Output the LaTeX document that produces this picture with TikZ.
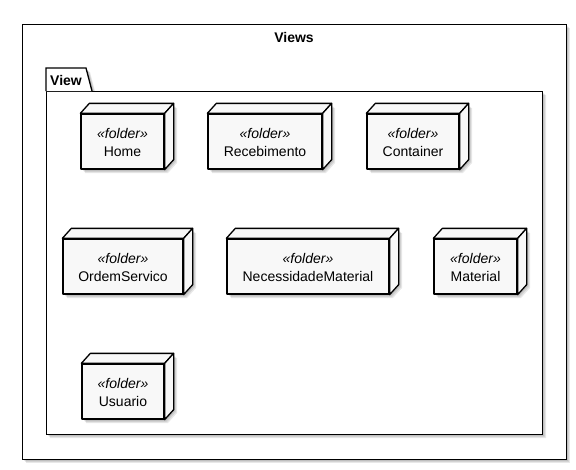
\documentclass[tikz,border=0pt]{standalone}
\usepackage{fontspec}
\setmainfont{Liberation Sans}
\begin{document}
\begin{tikzpicture}[x=1pt,y=-1pt,
  frameline/.style={draw=black,line width=1.3pt},
  boxline/.style={draw=black,line width=1.3pt,fill=boxfill,line join=round},
  shadowfill/.style={fill=black,opacity=0.09,draw=none},
  folderbox/.style={boxline,rectangle,inner sep=0pt,align=center,
     font=\fontsize{14}{18}\selectfont},
  titletext/.style={font=\fontsize{14}{17}\selectfont\bfseries,inner sep=0pt}
]
\definecolor{boxfill}{HTML}{F8F8F8}
\useasboundingbox (0,0) rectangle (576,469);
\fill[white] (0,0) rectangle (576,469);
% outer frame shadow
\foreach \s in {2,3,4}{
  \fill[shadowfill] (22+\s,24+\s) rectangle (566+\s,459+\s);
}
\node[frameline,fill=white,minimum width=544pt,minimum height=435pt,inner sep=0pt,anchor=north west] (views) at (22,24) {};
\node[titletext] (viewstitle) at (294,37) {Views};
% package View shadow
\foreach \s in {2,3,4}{
  \fill[shadowfill] (46+\s,91+\s) -- (46+\s,68+\s) -- (86+\s,68+\s) -- (92+\s,91+\s) -- (542+\s,91+\s) -- (542+\s,434+\s) -- (46+\s,434+\s) -- cycle;
}
\node[frameline,fill=white,minimum width=496pt,minimum height=343pt,inner sep=0pt,anchor=north west] (viewpkg) at (46,91) {};
\draw[frameline,fill=white,line join=miter] (viewpkg.north west) -- ++(0,-23) -- ++(40,0) coordinate (tabtr) -- ([xshift=46pt]viewpkg.north west) coordinate (tabbr);
\node[titletext,anchor=base west] (viewtitle) at (50,85) {View};
% folder nodes
\newcommand{\folderbox}[6]{%
  \foreach \s in {2,3,4}{
    \fill[shadowfill] (#2+\s,#3+\s) -- (#2+9+\s,#3-10+\s) -- (#4+9+\s,#3-10+\s) -- (#4+9+\s,#5-10+\s) -- (#4+\s,#5+\s) -- (#2+\s,#5+\s) -- cycle;
  }
  \node[folderbox,minimum width={#4-#2},minimum height={#5-#3}] (#1) at ({(#2+#4)/2},{(#3+#5)/2}) {};
  \draw[boxline] (#1.north west) -- ++(9,-10) -- ([shift={(9,-10)}]#1.north east) -- (#1.north east) -- cycle;
  \draw[boxline] (#1.north east) -- ++(9,-10) -- ([shift={(9,-10)}]#1.south east) -- (#1.south east) -- cycle;
  \node[font=\fontsize{14}{18}\selectfont\itshape,inner sep=0pt,anchor=base] (#1st) at ({(#2+#4)/2},{(#3+#5)/2-3.5}) {«folder»};
  \node[font=\fontsize{14}{18}\selectfont,inner sep=0pt,anchor=base] (#1nm) at ({(#2+#4)/2},{(#3+#5)/2+14.5}) {#6};
}
\folderbox{home}{81}{114}{164}{169}{Home}
\folderbox{receb}{208}{114}{322}{169}{Recebimento}
\folderbox{cont}{367}{114}{459}{169}{Container}
\folderbox{ordem}{63}{239}{183}{294}{OrdemServico}
\folderbox{neces}{227}{239}{389}{294}{NecessidadeMaterial}
\folderbox{mat}{434}{239}{517}{294}{Material}
\folderbox{usu}{82}{364}{164}{419}{Usuario}
\end{tikzpicture}
\end{document}
